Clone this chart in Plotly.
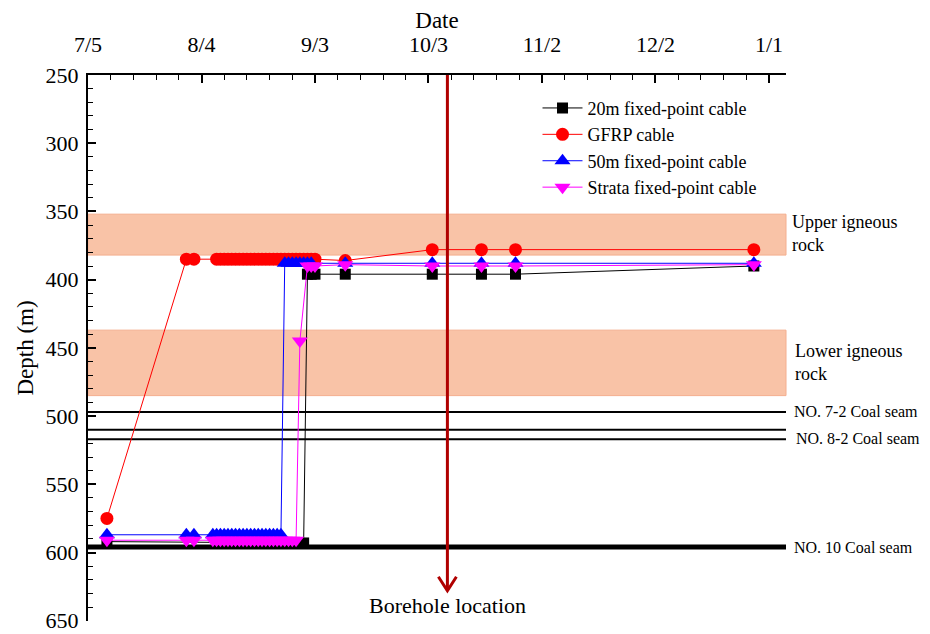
import plotly.graph_objects as go

# ---------------- data ----------------
gfrp_dates = ["2015-07-10", "2015-07-31", "2015-08-02",
              "2015-08-08", "2015-08-09", "2015-08-10", "2015-08-11", "2015-08-12", "2015-08-13",
              "2015-08-14", "2015-08-15", "2015-08-16", "2015-08-17", "2015-08-18", "2015-08-19",
              "2015-08-20", "2015-08-21", "2015-08-22", "2015-08-23", "2015-08-24", "2015-08-25",
              "2015-08-26", "2015-08-27", "2015-08-28", "2015-08-29", "2015-08-30", "2015-08-31",
              "2015-09-01", "2015-09-02", "2015-09-03",
              "2015-09-11", "2015-10-04", "2015-10-17", "2015-10-26", "2015-12-28"]
gfrp_depth = [575, 385, 385,
              385, 385, 385, 385, 385, 385,
              385, 385, 385, 385, 385, 385,
              385, 385, 385, 385, 385, 385,
              385, 385, 385, 385, 385, 385,
              385, 385, 385,
              386, 378, 378, 378, 378]

m50_dates = ["2015-07-10", "2015-07-31", "2015-08-02",
             "2015-08-07", "2015-08-08", "2015-08-09", "2015-08-10", "2015-08-11", "2015-08-12",
             "2015-08-13", "2015-08-14", "2015-08-15", "2015-08-16", "2015-08-17", "2015-08-18",
             "2015-08-19", "2015-08-20", "2015-08-21", "2015-08-22", "2015-08-23", "2015-08-24",
             "2015-08-25",
             "2015-08-26", "2015-08-27", "2015-08-28", "2015-08-29", "2015-08-30", "2015-08-31",
             "2015-09-01", "2015-09-02",
             "2015-09-11", "2015-10-04", "2015-10-17", "2015-10-26", "2015-12-28"]
m50_depth = [587, 587, 587,
             587, 587, 587, 587, 587, 587,
             587, 587, 587, 587, 587, 587,
             587, 587, 587, 587, 587, 587,
             587,
             388, 388, 388, 388, 388, 388,
             388, 388,
             388, 388, 388, 388, 388]

strata_dates = ["2015-07-10", "2015-07-31", "2015-08-02",
                "2015-08-07", "2015-08-08", "2015-08-09", "2015-08-10", "2015-08-11", "2015-08-12",
                "2015-08-13", "2015-08-14", "2015-08-15", "2015-08-16", "2015-08-17", "2015-08-18",
                "2015-08-19", "2015-08-20", "2015-08-21", "2015-08-22", "2015-08-23", "2015-08-24",
                "2015-08-25", "2015-08-26", "2015-08-27", "2015-08-28", "2015-08-29",
                "2015-08-30",
                "2015-09-01", "2015-09-02", "2015-09-03",
                "2015-09-11", "2015-10-04", "2015-10-17", "2015-10-26", "2015-12-28"]
strata_depth = [591, 591, 591,
                591, 591, 591, 591, 591, 591,
                591, 591, 591, 591, 591, 591,
                591, 591, 591, 591, 591, 591,
                591, 591, 591, 591, 591,
                445,
                390, 390, 390,
                389, 390, 390, 390, 389]

m20_dates = ["2015-07-10", "2015-08-31",
             "2015-09-01", "2015-09-02", "2015-09-03",
             "2015-09-11", "2015-10-04", "2015-10-17", "2015-10-26", "2015-12-28"]
m20_depth = [592, 593,
             396, 396, 396,
             396, 396, 396, 396, 390]

upper_rock = [352, 382]
lower_rock = [437, 485]
coal_72 = 497
coal_82 = [510, 517]
coal_10 = 596
borehole_date = "2015-10-08"
arrow_tip_depth = 628

x_tick0 = "2015-07-05"
x_range = ["2015-07-05", "2016-01-05 12:00"]
y_range = [650.2, 250]
y_ticks = [250, 300, 350, 400, 450, 500, 550, 600, 650]

SERIF = "Liberation Serif"
DAY = 86400000

fig = go.Figure()

series = [
    ("20m fixed-point cable", m20_dates, m20_depth, "black", "square", 11),
    ("GFRP cable", gfrp_dates, gfrp_depth, "#FF0000", "circle", 13),
    ("50m fixed-point cable", m50_dates, m50_depth, "#0000FF", "triangle-up", 14),
    ("Strata fixed-point cable", strata_dates, strata_depth, "#FF00FF", "triangle-down", 14),
]
for name, xs, ys, col, sym, size in series:
    fig.add_trace(go.Scatter(
        x=xs, y=ys, name=name, mode="lines+markers",
        line=dict(color=col, width=1),
        marker=dict(color=col, symbol=sym, size=size, line=dict(width=0)),
    ))

shapes = []
for lo, hi in (upper_rock, lower_rock):
    shapes.append(dict(type="rect", xref="paper", yref="y", x0=0, x1=1, y0=lo, y1=hi,
                       fillcolor="#F9C3A7", line=dict(color="#F4AE8E", width=1), layer="below"))
for yv, w in ((coal_72, 2), (coal_82[0], 2), (coal_82[1], 2), (coal_10, 5)):
    shapes.append(dict(type="line", xref="paper", yref="y", x0=0, x1=1, y0=yv, y1=yv,
                       line=dict(color="black", width=w), layer="below"))
shapes.append(dict(type="line", xref="x", yref="y", x0=borehole_date, x1=borehole_date,
                   y0=y_range[1], y1=arrow_tip_depth, line=dict(color="#B00000", width=3)))
shapes.append(dict(type="path", xref="x", yref="y", xsizemode="pixel", ysizemode="pixel",
                   xanchor=borehole_date, yanchor=arrow_tip_depth,
                   path="M -9 14 L 0 0 L 9 14", line=dict(color="#B00000", width=3)))

annotations = [
    dict(x=borehole_date, y=639, xref="x", yref="y", text="Borehole location",
         showarrow=False, font=dict(size=22, family=SERIF, color="black")),
    dict(x=1.006, y=366, xref="paper", yref="y", xanchor="left", align="left",
         text="Upper igneous<br>rock", showarrow=False, font=dict(size=18, family=SERIF)),
    dict(x=1.01, y=460.5, xref="paper", yref="y", xanchor="left", align="left",
         text="Lower igneous<br>rock", showarrow=False, font=dict(size=18, family=SERIF)),
    dict(x=1.008, y=496.5, xref="paper", yref="y", xanchor="left",
         text="NO. 7-2 Coal seam", showarrow=False, font=dict(size=16, family=SERIF)),
    dict(x=1.011, y=516.7, xref="paper", yref="y", xanchor="left",
         text="NO. 8-2 Coal seam", showarrow=False, font=dict(size=16, family=SERIF)),
    dict(x=1.008, y=coal_10, xref="paper", yref="y", xanchor="left",
         text="NO. 10 Coal seam", showarrow=False, font=dict(size=16, family=SERIF)),
]

# the page body adds an 8 px offset, so the figure is 8 px smaller with 8 px less margin
fig.update_layout(
    width=922, height=626,
    margin=dict(l=80, r=144, t=67, b=13),
    plot_bgcolor="white", paper_bgcolor="white",
    font=dict(family=SERIF, color="black"),
    shapes=shapes, annotations=annotations,
    legend=dict(x=0.644, y=0.973, xanchor="left", yanchor="top",
                bgcolor="rgba(0,0,0,0)", font=dict(size=18, family=SERIF),
                tracegroupgap=0, itemwidth=40),
    showlegend=True,
)
fig.update_xaxes(
    type="date", side="top", range=x_range, tick0=x_tick0, dtick=30 * DAY,
    tickformat="%-m/%-d", ticks="inside", ticklen=8, tickwidth=1.5, tickcolor="black",
    showline=True, linecolor="black", linewidth=2, showgrid=False, zeroline=False,
    minor=dict(tick0=x_tick0, dtick=6 * DAY, ticks="inside", ticklen=5, tickwidth=1.2, tickcolor="black"),
    tickfont=dict(size=22, family=SERIF), ticklabelstandoff=12, automargin=False,
    ticklabeloverflow="allow",
    title=dict(text="Date", font=dict(size=23, family=SERIF), standoff=1),
)
fig.update_yaxes(
    range=y_range, tickmode="array", tickvals=y_ticks, ticks="inside", ticklen=8, tickwidth=1.5,
    tickcolor="black",
    showline=True, linecolor="black", linewidth=2, showgrid=False, zeroline=False,
    minor=dict(tick0=250, dtick=10, ticks="inside", ticklen=5, tickwidth=1.2, tickcolor="black"),
    tickfont=dict(size=22, family=SERIF), ticklabelstandoff=3, automargin=False,
    ticklabeloverflow="allow",
    title=dict(text="Depth (m)", font=dict(size=23, family=SERIF), standoff=6),
)

fig.write_html("out.html")
